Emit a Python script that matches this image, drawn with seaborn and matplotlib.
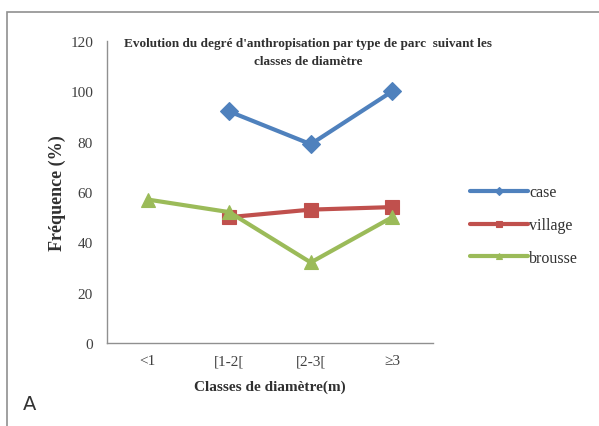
"""Evolution du degré d'anthropisation par type de parc suivant les classes de diamètre."""

import matplotlib.pyplot as plt
import numpy as np
import pandas as pd
import seaborn as sns
from matplotlib.patches import Rectangle

categories = ["<1", "[1-2[", "[2-3[", "\u22653"]
case_values = [np.nan, 92, 79, 100]
village_values = [np.nan, 50, 53, 54]
brousse_values = [57, 52, 32, 50]
series_names = ["case", "village", "brousse"]

palette = {"case": "#4F81BD", "village": "#C0504D", "brousse": "#9BBB59"}
markers = {"case": "D", "village": "s", "brousse": "^"}

sns.set_theme(style="white")
plt.rcParams["font.family"] = ["Liberation Serif", "DejaVu Serif"]


def main() -> None:
    rows = []
    for name, values in zip(series_names, [case_values, village_values, brousse_values]):
        for i, v in enumerate(values):
            rows.append({"pos": i, "Frequence": v, "type": name})
    df = pd.DataFrame(rows).dropna()

    fig = plt.figure(figsize=(5.99, 4.27), dpi=100)
    ax = fig.add_axes([0.1786, 0.1944, 0.5443, 0.7072])

    sns.lineplot(
        data=df, x="pos", y="Frequence", hue="type", style="type",
        hue_order=series_names, style_order=series_names,
        palette=palette, markers=markers, dashes=False,
        linewidth=3, markersize=9.5, markeredgewidth=0.8, ax=ax,
    )
    for line in ax.lines:
        line.set_markeredgecolor(line.get_color())

    ax.set_xlim(-0.5, len(categories) - 0.5)
    ax.set_ylim(0, 120)
    ax.set_yticks(range(0, 121, 20))
    ax.set_xticks(range(len(categories)))
    ax.set_xticklabels(categories)
    ax.set_xticks(np.arange(-0.5, len(categories), 1.0), minor=True)
    ax.tick_params(axis="x", which="major", length=0, pad=8, labelsize=11, colors="#404040")
    ax.tick_params(axis="x", which="minor", length=4, color="#909090", direction="out")
    ax.tick_params(axis="y", length=4, color="#909090", direction="out", labelsize=11,
                   colors="#404040", pad=6)
    for side in ["top", "right"]:
        ax.spines[side].set_visible(False)
    for side in ["left", "bottom"]:
        ax.spines[side].set_color("#909090")
        ax.spines[side].set_linewidth(1.0)
    ax.grid(False)

    ax.set_xlabel("Classes de diamètre(m)", fontsize=11, fontweight="bold", labelpad=9,
                  color="#303030")
    ax.set_ylabel("Fréquence (%)", fontsize=13, fontweight="bold", labelpad=3,
                  color="#303030")

    handles, labels = ax.get_legend_handles_labels()
    for h in handles:
        h.set_markersize(4)
    leg = ax.legend(handles, labels, loc="center left", bbox_to_anchor=(1.07, 0.39),
                    frameon=False, fontsize=11.5, handlelength=3.6, labelspacing=1.05,
                    handletextpad=0.1)
    for t in leg.get_texts():
        t.set_color("#303030")

    fig.text(0.515, 0.876, "Evolution du degré d'anthropisation par type de parc  suivant les\nclasses de diamètre",
             ha="center", va="center", fontsize=9.5, fontweight="bold", linespacing=1.7,
             color="#303030")
    fig.text(0.038, 0.04, "A", fontsize=14, family="DejaVu Sans", color="#333333")

    fig.patches.append(Rectangle((0.012, -0.01), 1.0, 0.98, transform=fig.transFigure,
                                 fill=False, edgecolor="#909090", linewidth=1.2))

    fig.savefig("out.png", dpi=100)
    plt.close(fig)


if __name__ == "__main__":
    main()
